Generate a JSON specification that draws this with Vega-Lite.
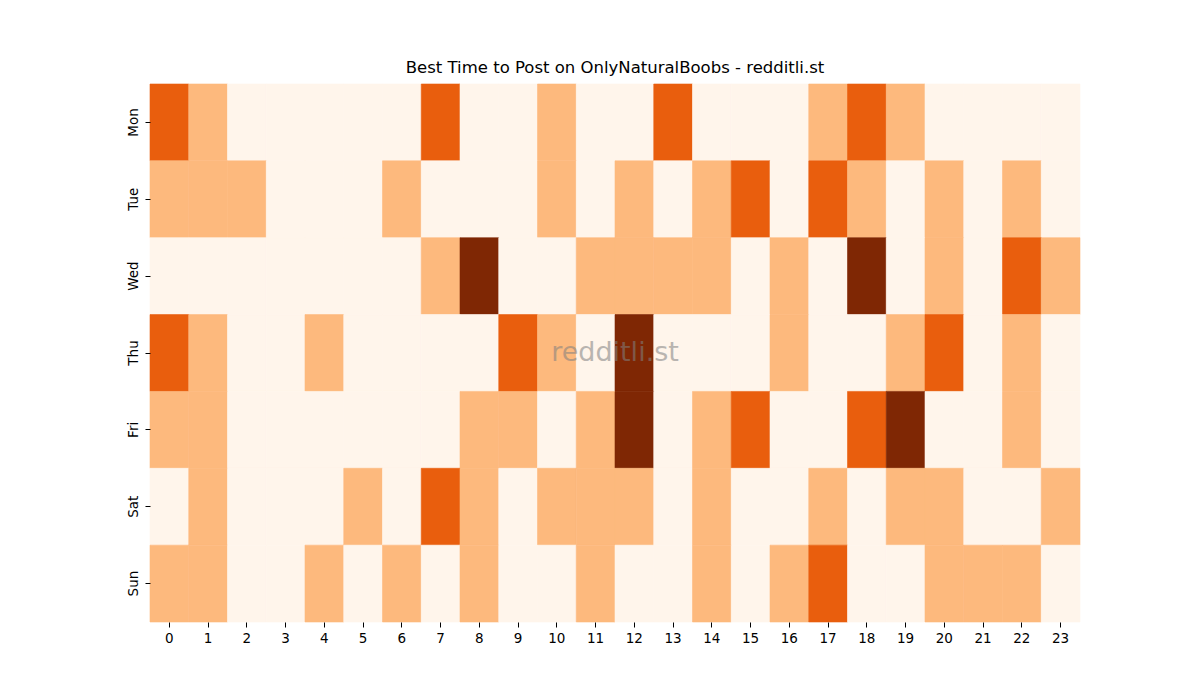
{
  "$schema": "https://vega.github.io/schema/vega-lite/v6.json",
  "description": "Best time to post heatmap",
  "autosize": "none",
  "padding": {"left": 150, "top": 84, "right": 120, "bottom": 78},
  "width": 930,
  "height": 538,
  "background": "#ffffff",
  "config": {
    "view": {"stroke": null},
    "font": "DejaVu Sans",
    "axis": {"labelFont": "DejaVu Sans", "labelFontSize": 13.5, "labelColor": "#000000", "tickColor": "#000000", "tickSize": 5, "domain": false, "grid": false}
  },
  "title": {
    "text": "Best Time to Post on OnlyNaturalBoobs - redditli.st",
    "font": "DejaVu Sans",
    "fontSize": 16.5,
    "fontWeight": "normal",
    "color": "#000000",
    "anchor": "middle",
    "offset": 7
  },
  "datasets": {
    "cells": [
      {"d": "Mon", "h": 0, "v": 2}, {"d": "Mon", "h": 1, "v": 1}, {"d": "Mon", "h": 2, "v": 0}, {"d": "Mon", "h": 3, "v": 0},
      {"d": "Mon", "h": 4, "v": 0}, {"d": "Mon", "h": 5, "v": 0}, {"d": "Mon", "h": 6, "v": 0}, {"d": "Mon", "h": 7, "v": 2},
      {"d": "Mon", "h": 8, "v": 0}, {"d": "Mon", "h": 9, "v": 0}, {"d": "Mon", "h": 10, "v": 1}, {"d": "Mon", "h": 11, "v": 0},
      {"d": "Mon", "h": 12, "v": 0}, {"d": "Mon", "h": 13, "v": 2}, {"d": "Mon", "h": 14, "v": 0}, {"d": "Mon", "h": 15, "v": 0},
      {"d": "Mon", "h": 16, "v": 0}, {"d": "Mon", "h": 17, "v": 1}, {"d": "Mon", "h": 18, "v": 2}, {"d": "Mon", "h": 19, "v": 1},
      {"d": "Mon", "h": 20, "v": 0}, {"d": "Mon", "h": 21, "v": 0}, {"d": "Mon", "h": 22, "v": 0}, {"d": "Mon", "h": 23, "v": 0},

      {"d": "Tue", "h": 0, "v": 1}, {"d": "Tue", "h": 1, "v": 1}, {"d": "Tue", "h": 2, "v": 1}, {"d": "Tue", "h": 3, "v": 0},
      {"d": "Tue", "h": 4, "v": 0}, {"d": "Tue", "h": 5, "v": 0}, {"d": "Tue", "h": 6, "v": 1}, {"d": "Tue", "h": 7, "v": 0},
      {"d": "Tue", "h": 8, "v": 0}, {"d": "Tue", "h": 9, "v": 0}, {"d": "Tue", "h": 10, "v": 1}, {"d": "Tue", "h": 11, "v": 0},
      {"d": "Tue", "h": 12, "v": 1}, {"d": "Tue", "h": 13, "v": 0}, {"d": "Tue", "h": 14, "v": 1}, {"d": "Tue", "h": 15, "v": 2},
      {"d": "Tue", "h": 16, "v": 0}, {"d": "Tue", "h": 17, "v": 2}, {"d": "Tue", "h": 18, "v": 1}, {"d": "Tue", "h": 19, "v": 0},
      {"d": "Tue", "h": 20, "v": 1}, {"d": "Tue", "h": 21, "v": 0}, {"d": "Tue", "h": 22, "v": 1}, {"d": "Tue", "h": 23, "v": 0},

      {"d": "Wed", "h": 0, "v": 0}, {"d": "Wed", "h": 1, "v": 0}, {"d": "Wed", "h": 2, "v": 0}, {"d": "Wed", "h": 3, "v": 0},
      {"d": "Wed", "h": 4, "v": 0}, {"d": "Wed", "h": 5, "v": 0}, {"d": "Wed", "h": 6, "v": 0}, {"d": "Wed", "h": 7, "v": 1},
      {"d": "Wed", "h": 8, "v": 3}, {"d": "Wed", "h": 9, "v": 0}, {"d": "Wed", "h": 10, "v": 0}, {"d": "Wed", "h": 11, "v": 1},
      {"d": "Wed", "h": 12, "v": 1}, {"d": "Wed", "h": 13, "v": 1}, {"d": "Wed", "h": 14, "v": 1}, {"d": "Wed", "h": 15, "v": 0},
      {"d": "Wed", "h": 16, "v": 1}, {"d": "Wed", "h": 17, "v": 0}, {"d": "Wed", "h": 18, "v": 3}, {"d": "Wed", "h": 19, "v": 0},
      {"d": "Wed", "h": 20, "v": 1}, {"d": "Wed", "h": 21, "v": 0}, {"d": "Wed", "h": 22, "v": 2}, {"d": "Wed", "h": 23, "v": 1},

      {"d": "Thu", "h": 0, "v": 2}, {"d": "Thu", "h": 1, "v": 1}, {"d": "Thu", "h": 2, "v": 0}, {"d": "Thu", "h": 3, "v": 0},
      {"d": "Thu", "h": 4, "v": 1}, {"d": "Thu", "h": 5, "v": 0}, {"d": "Thu", "h": 6, "v": 0}, {"d": "Thu", "h": 7, "v": 0},
      {"d": "Thu", "h": 8, "v": 0}, {"d": "Thu", "h": 9, "v": 2}, {"d": "Thu", "h": 10, "v": 1}, {"d": "Thu", "h": 11, "v": 0},
      {"d": "Thu", "h": 12, "v": 3}, {"d": "Thu", "h": 13, "v": 0}, {"d": "Thu", "h": 14, "v": 0}, {"d": "Thu", "h": 15, "v": 0},
      {"d": "Thu", "h": 16, "v": 1}, {"d": "Thu", "h": 17, "v": 0}, {"d": "Thu", "h": 18, "v": 0}, {"d": "Thu", "h": 19, "v": 1},
      {"d": "Thu", "h": 20, "v": 2}, {"d": "Thu", "h": 21, "v": 0}, {"d": "Thu", "h": 22, "v": 1}, {"d": "Thu", "h": 23, "v": 0},

      {"d": "Fri", "h": 0, "v": 1}, {"d": "Fri", "h": 1, "v": 1}, {"d": "Fri", "h": 2, "v": 0}, {"d": "Fri", "h": 3, "v": 0},
      {"d": "Fri", "h": 4, "v": 0}, {"d": "Fri", "h": 5, "v": 0}, {"d": "Fri", "h": 6, "v": 0}, {"d": "Fri", "h": 7, "v": 0},
      {"d": "Fri", "h": 8, "v": 1}, {"d": "Fri", "h": 9, "v": 1}, {"d": "Fri", "h": 10, "v": 0}, {"d": "Fri", "h": 11, "v": 1},
      {"d": "Fri", "h": 12, "v": 3}, {"d": "Fri", "h": 13, "v": 0}, {"d": "Fri", "h": 14, "v": 1}, {"d": "Fri", "h": 15, "v": 2},
      {"d": "Fri", "h": 16, "v": 0}, {"d": "Fri", "h": 17, "v": 0}, {"d": "Fri", "h": 18, "v": 2}, {"d": "Fri", "h": 19, "v": 3},
      {"d": "Fri", "h": 20, "v": 0}, {"d": "Fri", "h": 21, "v": 0}, {"d": "Fri", "h": 22, "v": 1}, {"d": "Fri", "h": 23, "v": 0},

      {"d": "Sat", "h": 0, "v": 0}, {"d": "Sat", "h": 1, "v": 1}, {"d": "Sat", "h": 2, "v": 0}, {"d": "Sat", "h": 3, "v": 0},
      {"d": "Sat", "h": 4, "v": 0}, {"d": "Sat", "h": 5, "v": 1}, {"d": "Sat", "h": 6, "v": 0}, {"d": "Sat", "h": 7, "v": 2},
      {"d": "Sat", "h": 8, "v": 1}, {"d": "Sat", "h": 9, "v": 0}, {"d": "Sat", "h": 10, "v": 1}, {"d": "Sat", "h": 11, "v": 1},
      {"d": "Sat", "h": 12, "v": 1}, {"d": "Sat", "h": 13, "v": 0}, {"d": "Sat", "h": 14, "v": 1}, {"d": "Sat", "h": 15, "v": 0},
      {"d": "Sat", "h": 16, "v": 0}, {"d": "Sat", "h": 17, "v": 1}, {"d": "Sat", "h": 18, "v": 0}, {"d": "Sat", "h": 19, "v": 1},
      {"d": "Sat", "h": 20, "v": 1}, {"d": "Sat", "h": 21, "v": 0}, {"d": "Sat", "h": 22, "v": 0}, {"d": "Sat", "h": 23, "v": 1},

      {"d": "Sun", "h": 0, "v": 1}, {"d": "Sun", "h": 1, "v": 1}, {"d": "Sun", "h": 2, "v": 0}, {"d": "Sun", "h": 3, "v": 0},
      {"d": "Sun", "h": 4, "v": 1}, {"d": "Sun", "h": 5, "v": 0}, {"d": "Sun", "h": 6, "v": 1}, {"d": "Sun", "h": 7, "v": 0},
      {"d": "Sun", "h": 8, "v": 1}, {"d": "Sun", "h": 9, "v": 0}, {"d": "Sun", "h": 10, "v": 0}, {"d": "Sun", "h": 11, "v": 1},
      {"d": "Sun", "h": 12, "v": 0}, {"d": "Sun", "h": 13, "v": 0}, {"d": "Sun", "h": 14, "v": 1}, {"d": "Sun", "h": 15, "v": 0},
      {"d": "Sun", "h": 16, "v": 1}, {"d": "Sun", "h": 17, "v": 2}, {"d": "Sun", "h": 18, "v": 0}, {"d": "Sun", "h": 19, "v": 0},
      {"d": "Sun", "h": 20, "v": 1}, {"d": "Sun", "h": 21, "v": 1}, {"d": "Sun", "h": 22, "v": 1}, {"d": "Sun", "h": 23, "v": 0}
    ],
    "mark": [
      {"d": "Thu", "h": 12, "t": "redditli.st"}
    ]
  },
  "layer": [
    {
      "data": {"name": "cells"},
      "mark": {"type": "rect", "strokeWidth": 0.6},
      "encoding": {
        "x": {
          "field": "h",
          "type": "ordinal",
          "sort": "ascending",
          "scale": {"paddingInner": 0, "paddingOuter": 0},
          "axis": {"title": null, "labelAngle": 0, "labelPadding": 4}
        },
        "y": {
          "field": "d",
          "type": "ordinal",
          "sort": ["Mon", "Tue", "Wed", "Thu", "Fri", "Sat", "Sun"],
          "scale": {"paddingInner": 0, "paddingOuter": 0},
          "axis": {"title": null, "labelAngle": 270, "labelAlign": "center", "labelBaseline": "bottom", "labelPadding": 5}
        },
        "fill": {
          "field": "v",
          "type": "ordinal",
          "scale": {"domain": [0, 1, 2, 3], "range": ["#fff5eb", "#fdb97d", "#e95e0d", "#7f2704"]},
          "legend": null
        },
        "stroke": {
          "field": "v",
          "type": "ordinal",
          "scale": {"domain": [0, 1, 2, 3], "range": ["#fff5eb", "#fdb97d", "#e95e0d", "#7f2704"]},
          "legend": null
        }
      }
    },
    {
      "data": {"name": "mark"},
      "mark": {"type": "text", "font": "DejaVu Sans", "fontSize": 27, "color": "#808080", "opacity": 0.55, "align": "center", "baseline": "middle"},
      "encoding": {
        "x": {"field": "h", "type": "ordinal", "bandPosition": 0},
        "y": {"field": "d", "type": "ordinal", "sort": ["Mon", "Tue", "Wed", "Thu", "Fri", "Sat", "Sun"]},
        "text": {"field": "t"}
      }
    }
  ]
}
